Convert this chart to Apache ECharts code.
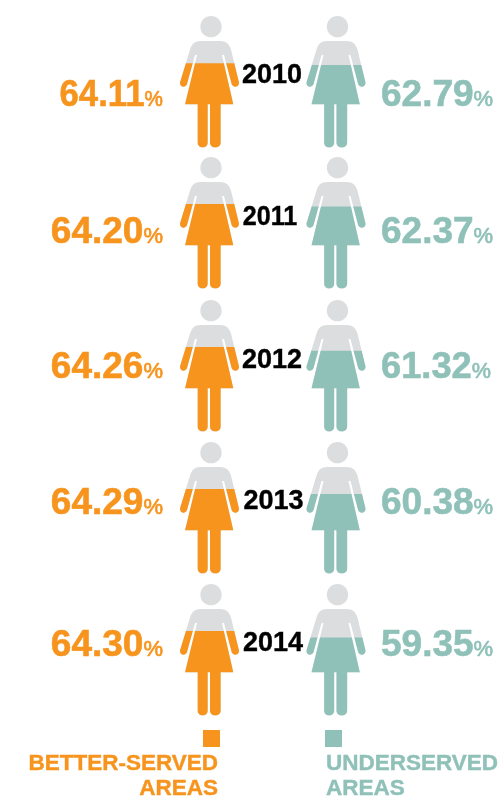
<!DOCTYPE html>
<html><head><meta charset="utf-8">
<style>html,body{margin:0;padding:0;background:#fff}#c{width:499px;height:796px}</style>
<script src="https://cdn.jsdelivr.net/npm/echarts@6/dist/echarts.min.js"></script>
</head><body><div id="c"></div>
<script>
var years = ['2010','2011','2012','2013','2014'];
var betterServed = [64.11,64.20,64.26,64.29,64.30];
var underserved = [62.79,62.37,61.32,60.38,59.35];
var legendNames = [['BETTER-SERVED','AREAS'],['UNDERSERVED','AREAS']];

var ORANGE='#F7941E', TEAL='#8FC1B9', GRAY='#DCDDDE';
var WOMAN='path://M123 33C141 33 155 47 155 65C155 83 141 97 123 97C105 97 91 83 91 65C91 47 105 33 123 33Z'+
 'M92 108L150 108C168 108 177 116 183 134L207 232C209 247 190 250 185 237L162 150L156 150L190 298L152 298L152 413C152 433 120 433 120 413L120 298L113 298L113 413C113 433 83 433 83 413L83 298L45 298L81 150L75 150L51 237C46 250 28 247 30 232L60 134C66 116 74 108 92 108Z';
var FIG_W=59, FIG_H=131.5;
var rowTop=[16,157,300,442,584];
var leftX=180, rightX=306.5;
var yearY=[76,218,361,502,644], yearX=[272,270,272,273.5,273], yearScale=[1,0.93,1,1,1];
var valY=[96,233,368,504,646];
var leftScale=[0.94,1,1,1,1], rightScale=[1,1,0.98,1,1];

var grid=[],xAxis=[],yAxis=[],series=[],graphic=[];
function fig(i,x,vals,color){
  var g=grid.length;
  grid.push({left:x,top:rowTop[i],width:FIG_W,height:FIG_H});
  xAxis.push({type:'category',gridIndex:g,data:[years[i]],show:false});
  yAxis.push({type:'value',gridIndex:g,min:0,max:100,show:false});
  var base={type:'pictorialBar',xAxisIndex:g,yAxisIndex:g,symbol:WOMAN,symbolSize:['100%','100%'],
    barWidth:'100%',symbolBoundingData:100,silent:true,animation:false};
  series.push(Object.assign({},base,{data:[100],z:2,itemStyle:{color:GRAY}}));
  series.push(Object.assign({},base,{data:[vals[i]],z:3,symbolClip:true,itemStyle:{color:color}}));
}
function val(v,x,y,align,color,sx){
  return {type:'text',x:x,y:y,scaleX:sx,z:10,style:{text:'{a|'+v.toFixed(2)+'}{b|%}',align:align,verticalAlign:'middle',
    fill:color,rich:{a:{font:'bold 37px "Liberation Sans"',fill:color,stroke:color,lineWidth:0.6},
      b:{font:'normal 22px "Liberation Sans"',fill:color,stroke:color,lineWidth:0.7,padding:[8,0,0,0]}}}};
}
years.forEach(function(yr,i){
  fig(i,leftX,betterServed,ORANGE);
  fig(i,rightX,underserved,TEAL);
  graphic.push(val(betterServed[i],163,valY[i],'right',ORANGE,leftScale[i]));
  graphic.push(val(underserved[i],381,valY[i],'left',TEAL,rightScale[i]));
  graphic.push({type:'text',x:yearX[i],y:yearY[i],scaleX:yearScale[i],z:10,style:{text:yr,align:'center',verticalAlign:'middle',
    font:'bold 27px "Liberation Sans"',fill:'#000',stroke:'#000',lineWidth:0.4}});
});
graphic.push({type:'rect',shape:{x:203,y:730,width:17,height:17},style:{fill:ORANGE}});
graphic.push({type:'rect',shape:{x:325,y:730,width:17,height:17},style:{fill:TEAL}});
legendNames[0].forEach(function(t,i){
  graphic.push({type:'text',x:218,y:764+i*24.5,style:{text:t,align:'right',verticalAlign:'middle',font:'bold 22.5px "Liberation Sans"',fill:ORANGE,stroke:ORANGE,lineWidth:0.4}});
});
legendNames[1].forEach(function(t,i){
  graphic.push({type:'text',x:326,y:764+i*24.5,style:{text:t,align:'left',verticalAlign:'middle',font:'bold 22.5px "Liberation Sans"',fill:TEAL,stroke:TEAL,lineWidth:0.4}});
});
var chart=echarts.init(document.getElementById('c'));
chart.setOption({animation:false,backgroundColor:'#fff',grid:grid,xAxis:xAxis,yAxis:yAxis,series:series,graphic:graphic});
</script></body></html>
